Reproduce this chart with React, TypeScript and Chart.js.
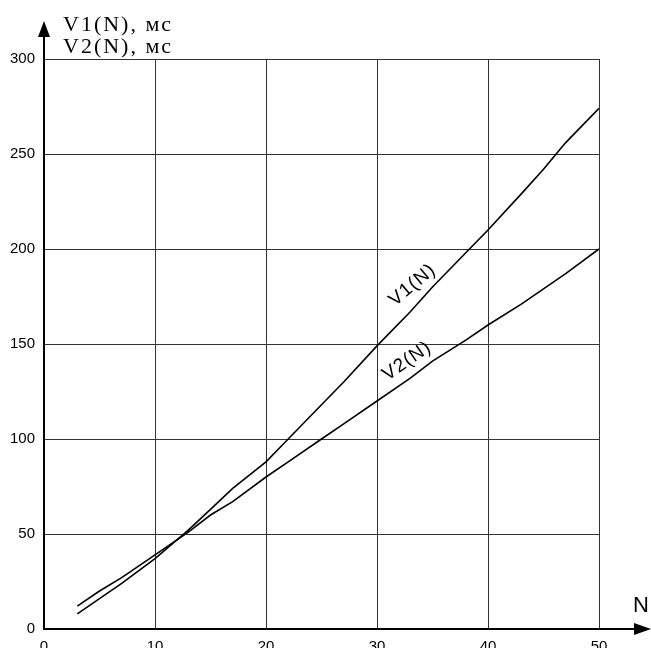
import React, { useEffect, useRef } from "react";
import { Chart, registerables } from "chart.js";

Chart.register(...registerables);

const nValues = [3, 5, 7, 10, 13, 15, 17, 20, 22, 25, 27, 30, 33, 35, 38, 40, 43, 45, 47, 50];
const v1Values = [8, 16, 24, 37, 52, 63, 74, 88, 100, 118, 130, 149, 167, 180, 198, 210, 229, 242, 256, 274];
const v2Values = [12, 20, 27, 39, 51, 60, 67, 80, 88, 100, 108, 120, 132, 141, 152, 160, 171, 179, 187, 200];
const yAxisTitle = ["V1(N), мс", "V2(N), мс"];
const xAxisTitle = "N";
const seriesLabels = [
  { text: "V1(N)", n: 33.2, v: 181, angle: -40 },
  { text: "V2(N)", n: 32.7, v: 141, angle: -34.5 },
];

const decorPlugin = {
  id: "decor",
  afterDraw(chart: any) {
    const ctx = chart.ctx;
    const xs = chart.scales.x;
    const ys = chart.scales.y;
    const x0 = xs.getPixelForValue(0);
    const y0 = ys.getPixelForValue(0);
    const top = ys.getPixelForValue(300);
    const right = xs.getPixelForValue(50);
    ctx.save();
    ctx.strokeStyle = "#000";
    ctx.fillStyle = "#000";
    ctx.lineWidth = 2;
    // y axis extension + arrow
    ctx.beginPath();
    ctx.moveTo(x0, top);
    ctx.lineTo(x0, 34);
    ctx.stroke();
    ctx.beginPath();
    ctx.moveTo(x0, 21);
    ctx.lineTo(x0 - 6, 37);
    ctx.lineTo(x0 + 6, 37);
    ctx.closePath();
    ctx.fill();
    // x axis extension + arrow
    ctx.beginPath();
    ctx.moveTo(right, y0);
    ctx.lineTo(636, y0);
    ctx.stroke();
    ctx.beginPath();
    ctx.moveTo(651, y0);
    ctx.lineTo(634, y0 - 6);
    ctx.lineTo(634, y0 + 6);
    ctx.closePath();
    ctx.fill();
    // y axis title
    ctx.font = '22px "Liberation Serif"';
    (ctx as any).letterSpacing = "2px";
    ctx.textAlign = "left";
    ctx.textBaseline = "alphabetic";
    ctx.fillText(yAxisTitle[0], 63, 31);
    ctx.fillText(yAxisTitle[1], 63, 53);
    (ctx as any).letterSpacing = "0px";
    // x axis title
    ctx.font = '22px "Liberation Sans"';
    ctx.fillText(xAxisTitle, 633, 612);
    // series labels
    ctx.font = '19px "Liberation Sans"';
    (ctx as any).letterSpacing = "1px";
    ctx.textAlign = "center";
    ctx.textBaseline = "middle";
    for (const l of seriesLabels) {
      ctx.save();
      ctx.translate(xs.getPixelForValue(l.n), ys.getPixelForValue(l.v));
      ctx.rotate((l.angle * Math.PI) / 180);
      ctx.fillText(l.text, 0, 0);
      ctx.restore();
    }
    (ctx as any).letterSpacing = "0px";
    ctx.restore();
  },
};

export default function App() {
  const ref = useRef<HTMLCanvasElement>(null);
  useEffect(() => {
    document.body.style.margin = "0";
    const canvas = ref.current!;
    const chart = new Chart(canvas, {
      type: "line",
      data: {
        datasets: [
          {
            label: "V1(N)",
            data: nValues.map((n, i) => ({ x: n, y: v1Values[i] })),
            borderColor: "#000",
            borderWidth: 1.6,
            pointRadius: 0,
            fill: false,
          },
          {
            label: "V2(N)",
            data: nValues.map((n, i) => ({ x: n, y: v2Values[i] })),
            borderColor: "#000",
            borderWidth: 1.6,
            pointRadius: 0,
            fill: false,
          },
        ],
      },
      options: {
        responsive: false,
        animation: false,
        layout: { padding: { top: 59, right: 52, left: 0, bottom: 0 } },
        plugins: { legend: { display: false }, tooltip: { enabled: false } },
        scales: {
          x: {
            type: "linear",
            min: 0,
            max: 50,
            afterFit: (s: any) => {
              s.height = 19;
            },
            ticks: {
              stepSize: 10,
              color: "#000",
              padding: 9,
              font: { family: "Liberation Sans", size: 15 },
              maxRotation: 0,
            },
            grid: { color: "#333", lineWidth: 1, drawTicks: false },
            border: { color: "#000", width: 2 },
          },
          y: {
            min: 0,
            max: 300,
            afterFit: (s: any) => {
              s.width = 44;
            },
            ticks: {
              stepSize: 50,
              color: "#000",
              padding: 9,
              font: { family: "Liberation Sans", size: 15 },
            },
            grid: { color: "#333", lineWidth: 1, drawTicks: false },
            border: { color: "#000", width: 2 },
          },
        },
      },
      plugins: [decorPlugin],
    });
    return () => chart.destroy();
  }, []);
  return (
    <div style={{ width: 651, height: 648, background: "#fff" }}>
      <canvas ref={ref} width={651} height={648} style={{ display: "block" }} />
    </div>
  );
}
